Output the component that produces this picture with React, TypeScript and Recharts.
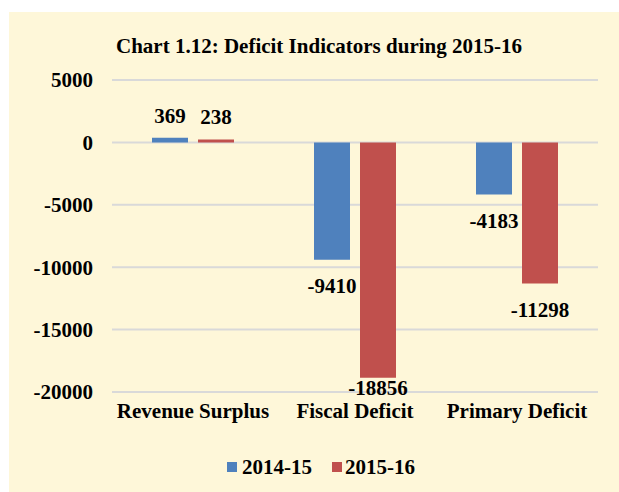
import React from 'react';
import { BarChart, Bar, XAxis, YAxis, CartesianGrid, LabelList } from 'recharts';

const title = 'Chart 1.12: Deficit Indicators during 2015-16';
const categories = ['Revenue Surplus', 'Fiscal Deficit', 'Primary Deficit'];
const values2014 = [369, -9410, -4183];
const values2015 = [238, -18856, -11298];
const seriesNames = ['2014-15', '2015-16'];
const seriesColors = ['#4F81BD', '#C0504D'];
const yTicks = [5000, 0, -5000, -10000, -15000, -20000];

const data = categories.map((c, i) => ({
  name: c,
  s2014: values2014[i],
  s2015: values2015[i],
}));

const FONT = "'Liberation Serif', 'Times New Roman', serif";
const W = 619;
const H = 492;
const MARGIN = { top: 80, right: 21, bottom: 70, left: 12 };
const X_AXIS_H = 30;
const PLOT_BOTTOM = H - MARGIN.bottom - X_AXIS_H;

const ValueLabel = (props: any) => {
  const { x, y, width, height, value } = props;
  const top = Math.min(y, y + height);
  const bottom = Math.max(y, y + height);
  const cx = x + width / 2;
  let by: number;
  if (value >= 0) {
    by = top - 15;
  } else {
    by = Math.min(bottom + 33.5, PLOT_BOTTOM + 2.5);
  }
  return (
    <text
      x={cx}
      y={by}
      textAnchor="middle"
      fontFamily={FONT}
      fontWeight="bold"
      fontSize={21}
      fill="#000"
    >
      {value}
    </text>
  );
};

export default function App() {
  return (
    <div style={{ position: 'absolute', left: 0, top: 0, width: W, height: H }}>
      <div
        style={{
          position: 'absolute',
          left: 9,
          top: 12,
          width: W - 9,
          height: H - 12,
          background: '#FEF7D9',
        }}
      />
      <div
        style={{
          position: 'absolute',
          left: 0,
          top: 35.7,
          width: 638,
          textAlign: 'center',
          fontFamily: FONT,
          fontWeight: 'bold',
          fontSize: 21,
          lineHeight: '21px',
          color: '#000',
          whiteSpace: 'nowrap',
        }}
      >
        {title}
      </div>
      <div style={{ position: 'absolute', left: 0, top: 0 }}>
        <BarChart
          width={W}
          height={H}
          data={data}
          margin={MARGIN}
          barSize={36}
          barGap={10}
        >
          <CartesianGrid vertical={false} stroke="#D9D9D9" strokeWidth={2} />
          <XAxis
            dataKey="name"
            axisLine={false}
            tickLine={false}
            height={X_AXIS_H}
            tickMargin={5}
            interval={0}
            tick={{ fontFamily: FONT, fontWeight: 'bold', fontSize: 21, fill: '#000' }}
          />
          <YAxis
            width={100}
            domain={[-20000, 5000]}
            ticks={yTicks}
            axisLine={false}
            tickLine={false}
            tickMargin={13}
            interval={0}
            tick={{ fontFamily: FONT, fontWeight: 'bold', fontSize: 21, fill: '#000' }}
          />
          <Bar dataKey="s2014" name={seriesNames[0]} fill={seriesColors[0]} isAnimationActive={false}>
            <LabelList dataKey="s2014" content={ValueLabel} />
          </Bar>
          <Bar dataKey="s2015" name={seriesNames[1]} fill={seriesColors[1]} isAnimationActive={false}>
            <LabelList dataKey="s2015" content={ValueLabel} />
          </Bar>
        </BarChart>
      </div>
      <div
        style={{
          position: 'absolute',
          left: 227,
          top: 456.7,
          display: 'flex',
          alignItems: 'flex-start',
          fontFamily: FONT,
          fontWeight: 'bold',
          fontSize: 21,
          lineHeight: '21px',
          color: '#000',
          whiteSpace: 'nowrap',
        }}
      >
        {seriesNames.map((n, i) => (
          <div key={n} style={{ display: 'flex', alignItems: 'flex-start', marginRight: i === 0 ? 20 : 0 }}>
            <div
              style={{
                width: 10,
                height: 10,
                marginTop: 5,
                marginRight: i === 0 ? 5 : 3,
                background: seriesColors[i],
              }}
            />
            <span>{n}</span>
          </div>
        ))}
      </div>
    </div>
  );
}
